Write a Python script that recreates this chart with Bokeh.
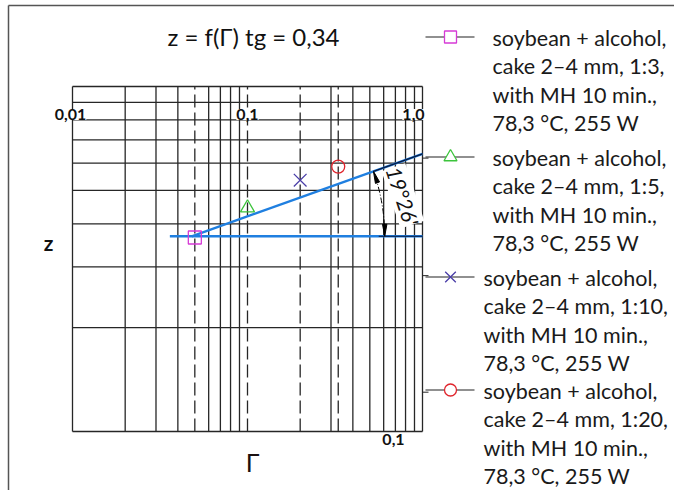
import math
from bokeh.plotting import figure
from bokeh.models import Range1d, ColumnDataSource
from bokeh.core.properties import value
from bokeh.embed import file_html
from bokeh.resources import INLINE

# ---------------- data ----------------
gamma = [0.05, 0.1, 0.2, 0.33]          # Γ of the four experiments
z = [0.365, 0.445, 0.535, 0.586]        # z of the four experiments
series_markers = ["square", "triangle", "x", "circle"]
series_colors = ["#d63ad6", "#3cc43c", "#4a3ea8", "#e0242c"]
ratios = ["1:3", "1:5", "1:10", "1:20"]
legend_line1 = "soybean + alcohol,"
legend_line2 = ["cake 2–4 mm, " + r + "," for r in ratios]
legend_line3 = "with MH 10 min.,"
legend_line4 = "78,3 °C, 255 W"

fit_gamma = [0.048, 1.0]                # fitted straight line
fit_z = [0.368, 0.638]
base_gamma = [0.036, 1.0]               # horizontal reference line
base_z = [0.368, 0.368]
right_tick_z = [0.62, 0.283, 0.13]

title_text = "z = f(Γ) tg = 0,34"
angle_text = "19°26'"
x_tick_vals = [0.01, 0.1, 1.0]
x_tick_labels = ["0,01", "0,1", "1,0"]
y_tick_val = [0.1]
y_tick_label = ["0,1"]
x_grid = [k * 10.0 ** e for e in (-2, -1) for k in range(1, 10)] + [1.0]
y_grid = [k * 0.1 for k in range(1, 11)]

# ---------------- layout ----------------
W, H = 674, 490
GX0, GX1 = 72.0, 422.0       # px of Γ = 0.01 and Γ = 1
GY0, GY1 = 431.0, 86.0       # px of z = 0.1 and z = 1
DX = (GX1 - GX0) / 2.0
DY = GY0 - GY1


def px_g(px):
    return 10 ** (-2 + (px - GX0) / DX)


def py_z(py):
    return 10 ** (-1 + (GY0 - py) / DY)


def g_px(g):
    return GX0 + (math.log10(g) + 2) * DX


def z_py(v):
    return GY0 - (math.log10(v) + 1) * DY


p = figure(width=W, height=H, x_axis_type="log", y_axis_type="log",
           x_range=Range1d(px_g(0), px_g(W)),
           y_range=Range1d(py_z(H), py_z(0)),
           x_axis_location=None, y_axis_location=None,
           min_border=0, toolbar_location=None, output_backend="svg",
           outline_line_color=None, background_fill_color="white",
           border_fill_color="white")
p.grid.visible = False

GRID_C = "#262626"
FONT = value("Lato")

# outer border (top and left)
p.segment(x0=[px_g(8), px_g(8)], y0=[py_z(5), py_z(5)],
          x1=[px_g(W), px_g(8)], y1=[py_z(5), py_z(H)],
          line_color="#555555", line_width=1.5)

# grid
dashed = set(round(math.log10(g), 2) for g in gamma)
solid_x = [g for g in x_grid if round(math.log10(g), 2) not in dashed]
p.segment(x0=solid_x, y0=[y_grid[0]] * len(solid_x), x1=solid_x,
          y1=[y_grid[-1]] * len(solid_x), line_color=GRID_C, line_width=1.3)
p.segment(x0=[x_grid[0]] * len(y_grid), y0=y_grid, x1=[x_grid[-1]] * len(y_grid),
          y1=y_grid, line_color=GRID_C, line_width=1.3)
p.segment(x0=gamma, y0=[y_grid[0]] * 4, x1=gamma, y1=[y_grid[-1]] * 4,
          line_color=GRID_C, line_width=1.3, line_dash="13 5")

# right-side small ticks
p.segment(x0=[x_grid[-1]] * 3, y0=right_tick_z, x1=[px_g(GX1 + 6)] * 3,
          y1=right_tick_z, line_color=GRID_C, line_width=1)

# fit lines
BLUE = "#1f7fe0"
p.line(fit_gamma, fit_z, line_color=BLUE, line_width=2.4)
p.line(base_gamma, base_z, line_color=BLUE, line_width=2.4)

# angle dimension
vx, vy = g_px(fit_gamma[0]), z_py(fit_z[0])
ex, ey = g_px(fit_gamma[1]), z_py(fit_z[1])
th1 = math.atan2(vy - ey, ex - vx)
R = 193.0
p.arc(x=[fit_gamma[0]], y=[fit_z[0]], radius=R, radius_units="screen",
      start_angle=0.0, end_angle=th1, direction="anticlock",
      line_color="black", line_width=1, line_dash="6 2 1 2")
L, w = 12.0, 2.2
heads_x, heads_y = [], []
tx, ty = vx + R * math.cos(th1), vy - R * math.sin(th1)
bx, by = tx + L * math.sin(th1), ty + L * math.cos(th1)
nx, ny = math.cos(th1), -math.sin(th1)
pts = [(tx, ty), (bx + w * nx, by + w * ny), (bx - w * nx, by - w * ny)]
heads_x.append([px_g(a) for a, b in pts]); heads_y.append([py_z(b) for a, b in pts])
top_tip = (tx, ty)
tx, ty = vx + R, vy
pts = [(tx, ty), (tx + w, ty - L), (tx - w, ty - L)]
heads_x.append([px_g(a) for a, b in pts]); heads_y.append([py_z(b) for a, b in pts])
p.patches(heads_x, heads_y, fill_color="black", line_color="black", line_width=1)
p.line([px_g(top_tip[0]), fit_gamma[1]], [py_z(top_tip[1]), fit_z[1]],
       line_color="#0a1a40", line_width=1.2)
p.line([px_g(tx - 6), base_gamma[1]], [base_z[0], base_z[1]],
       line_color="#0a1a40", line_width=1.0)
amid = th1 * 0.55
p.text(x=[px_g(vx + (R + 22) * math.cos(amid))], y=[py_z(vy - (R + 22) * math.sin(amid))],
       text=[angle_text], angle=-1.25, text_font=FONT, text_font_style="italic",
       text_font_size="21px", text_align="center", text_baseline="middle",
       text_color="#111111", background_fill_color="white")

# data points
src = ColumnDataSource(dict(g=gamma, z=z, m=series_markers, c=series_colors,
                            s=[13, 14, 18, 13]))
p.scatter("g", "z", source=src, marker="m", size="s", line_color="c",
          fill_color=None, line_width=1.3)

# tick labels
p.text(x=x_tick_vals, y=[py_z(114)] * 3, text=x_tick_labels,
       x_offset=[-2, 0, -9], text_font=FONT, text_font_style="bold",
       text_font_size="16px", text_align="center", text_baseline="middle",
       text_color="#111111", background_fill_color="white")
p.text(x=[px_g(393)], y=[py_z(439)], text=y_tick_label, text_font=FONT,
       text_font_style="bold", text_font_size="16px", text_align="center",
       text_baseline="middle", text_color="#111111")

# axis names and title
p.text(x=[px_g(48)], y=[py_z(242)], text=["z"], text_font=FONT,
       text_font_style="bold", text_font_size="21px", text_align="center",
       text_baseline="middle", text_color="#111111")
p.text(x=[px_g(252)], y=[py_z(461)], text=["Γ"], text_font=FONT,
       text_font_size="25px", text_align="center", text_baseline="middle",
       text_color="#1a1010")
p.text(x=[px_g(253)], y=[py_z(36)], text=[title_text], text_font=FONT,
       text_font_size="24px", text_align="center", text_baseline="middle",
       text_color="#111111")

# legend
entry_mid = [37.5, 157.5, 277.5, 390.5]
entry_text_x = [492, 492, 483, 483]
LS = 28.3
lx, ly, lt = [], [], []
for i in range(4):
    lines = [legend_line1, legend_line2[i], legend_line3, legend_line4]
    for j, t in enumerate(lines):
        lx.append(px_g(entry_text_x[i]))
        ly.append(py_z(entry_mid[i] + j * LS))
        lt.append(t)
p.text(x=lx, y=ly, text=lt, text_font=FONT, text_font_size="21.5px",
       text_align="left", text_baseline="middle", text_color="#1a1a1a")
mark_y = [py_z(m - 1) for m in entry_mid]
p.segment(x0=[px_g(425)] * 4, y0=mark_y, x1=[px_g(474)] * 4, y1=mark_y,
          line_color="#222222", line_width=1.2)
lsrc = ColumnDataSource(dict(g=[px_g(450)] * 4, z=mark_y, m=series_markers,
                             c=series_colors, s=[12, 13, 15, 12]))
p.scatter("g", "z", source=lsrc, marker="m", size="s", line_color="c",
          fill_color="white", line_width=1.3)

open("out.html", "w").write(file_html(p, INLINE))
